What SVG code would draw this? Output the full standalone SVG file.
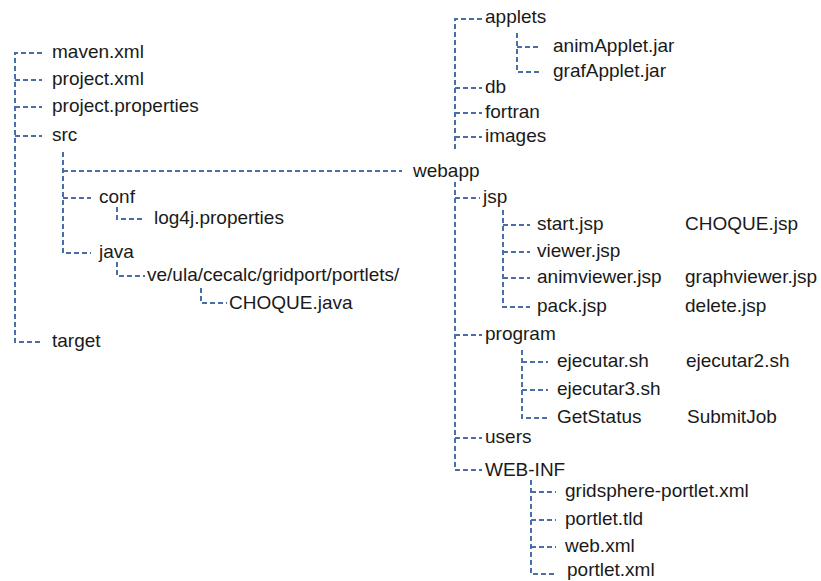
<svg xmlns="http://www.w3.org/2000/svg" width="821" height="581" viewBox="0 0 821 581">
<style>
.c{fill:none;stroke:#4a6ea8;stroke-width:2;stroke-dasharray:5 3}
text{font-family:"Liberation Sans",Arial,sans-serif;font-size:19px;fill:#1a1a1a}
</style>
<rect width="821" height="581" fill="#ffffff"/>
<g id="connectors">
<path class="c" d="M42 53H15V342H42"/>
<path class="c" d="M15 80H42M15 107H42M15 136H42"/>
<path class="c" d="M63 152V253H91M63 171H402M63 198H91"/>
<path class="c" d="M117 207V219H145"/>
<path class="c" d="M117 262V276H145"/>
<path class="c" d="M201 288V303H227"/>
<path class="c" d="M482 19H455V151"/>
<path class="c" d="M455 182V470H482"/>
<path class="c" d="M455 88H482M455 113H482M455 137H482M455 198H480M455 335H482M455 438H482"/>
<path class="c" d="M517 33V72H540M517 47H540"/>
<path class="c" d="M503 210V307H530M503 225H530M503 252H530M503 278H530"/>
<path class="c" d="M522 350V418H548M522 362H548M522 390H548"/>
<path class="c" d="M531 480V574H556M531 492H556M531 520H556M531 547H556"/>
</g>
<g id="maven"><text x="52" y="58">maven.xml</text></g>
<g id="project-xml"><text x="52" y="85">project.xml</text></g>
<g id="project-properties"><text x="52" y="112">project.properties</text></g>
<g id="src"><text x="52" y="141">src</text></g>
<g id="conf"><text x="99" y="203">conf</text></g>
<g id="log4j"><text x="154" y="224">log4j.properties</text></g>
<g id="java"><text x="99" y="258">java</text></g>
<g id="ve"><text x="147" y="281">ve/ula/cecalc/gridport/portlets/</text></g>
<g id="choque-java"><text x="229" y="309">CHOQUE.java</text></g>
<g id="target"><text x="52" y="347">target</text></g>
<g id="webapp"><text x="413" y="177">webapp</text></g>
<g id="applets"><text x="485" y="23">applets</text></g>
<g id="animapplet"><text x="553" y="52">animApplet.jar</text></g>
<g id="grafapplet"><text x="553" y="77">grafApplet.jar</text></g>
<g id="db"><text x="485" y="93">db</text></g>
<g id="fortran"><text x="485" y="118">fortran</text></g>
<g id="images"><text x="485" y="142">images</text></g>
<g id="jsp"><text x="483" y="203">jsp</text></g>
<g id="start"><text x="537" y="230">start.jsp</text></g>
<g id="choque-jsp"><text x="685" y="230">CHOQUE.jsp</text></g>
<g id="viewer"><text x="537" y="257">viewer.jsp</text></g>
<g id="animviewer"><text x="537" y="283">animviewer.jsp</text></g>
<g id="graphviewer"><text x="685" y="283">graphviewer.jsp</text></g>
<g id="pack"><text x="537" y="312">pack.jsp</text></g>
<g id="delete"><text x="685" y="312">delete.jsp</text></g>
<g id="program"><text x="485" y="340">program</text></g>
<g id="ejecutar"><text x="557" y="367">ejecutar.sh</text></g>
<g id="ejecutar2"><text x="686" y="367">ejecutar2.sh</text></g>
<g id="ejecutar3"><text x="557" y="395">ejecutar3.sh</text></g>
<g id="getstatus"><text x="557" y="423">GetStatus</text></g>
<g id="submitjob"><text x="687" y="423">SubmitJob</text></g>
<g id="users"><text x="485" y="443">users</text></g>
<g id="web-inf"><text x="485" y="476">WEB-INF</text></g>
<g id="gridsphere"><text x="565" y="497">gridsphere-portlet.xml</text></g>
<g id="portlet-tld"><text x="565" y="525">portlet.tld</text></g>
<g id="web-xml"><text x="565" y="552">web.xml</text></g>
<g id="portlet-xml"><text x="567" y="576">portlet.xml</text></g>
</svg>
